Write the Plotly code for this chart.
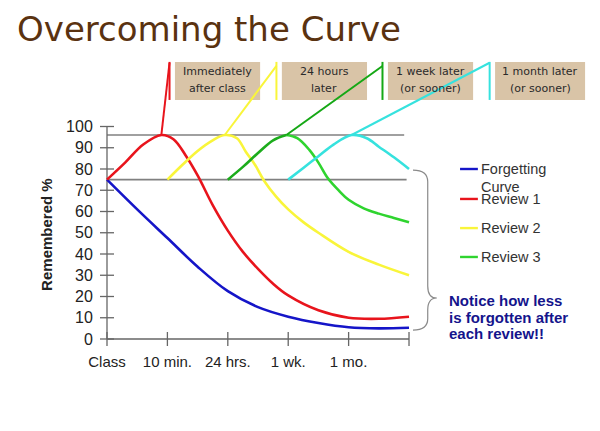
import plotly.graph_objects as go

# ---------------- data ----------------
categories = ["Class", "10 min.", "24 hrs.", "1 wk.", "1 mo."]
y_ticks = [0, 10, 20, 30, 40, 50, 60, 70, 80, 90, 100]

forget_x = [0, 0.5, 1, 1.5, 2, 2.5, 3, 3.5, 4, 4.5, 5]
forget_y = [75, 61, 47.5, 34, 22.5, 15, 10.5, 7.5, 5.5, 5, 5.3]

review1_x = [0, 0.3, 0.6, 0.9, 1.1, 1.3, 1.5, 1.75, 2, 2.25, 2.5, 2.75, 3, 3.5, 4, 4.5, 5]
review1_y = [75, 83, 91.5, 96, 94, 86.5, 77, 63, 51, 41, 33, 26, 20.5, 13.5, 10, 9.5, 10.5]

review2_x = [1, 1.25, 1.5, 1.75, 1.95, 2.15, 2.3, 2.45, 2.6, 2.8, 3, 3.25, 3.5, 4, 4.5, 5]
review2_y = [75, 82, 88.5, 93.5, 96, 94.5, 88, 82, 74.5, 67, 61, 55, 50, 41, 35, 30]

review3_x = [2, 2.25, 2.5, 2.75, 2.97, 3.15, 3.35, 3.5, 3.66, 3.85, 4, 4.25, 4.5, 4.75, 5]
review3_y = [75, 81, 87.5, 93.5, 96, 94.5, 89, 83, 75.5, 69.5, 65.5, 61.5, 59, 57, 55]

review4_x = [3, 3.25, 3.5, 3.75, 4.05, 4.3, 4.5, 4.75, 5]
review4_y = [75, 80.5, 86, 91.5, 96, 94.5, 90.5, 85.5, 80]

ref_levels = [96, 75]
ref_ends = [4.92, 4.96]

legend_names = ["Forgetting Curve", "Review 1", "Review 2", "Review 3"]
box_texts = [["Immediately", "after class"], ["24 hours", "later"],
             ["1 week later", "(or sooner)"], ["1 month later", "(or sooner)"]]
note_lines = ["Notice how less", "is forgotten after", "each review!!"]

# ---------------- styles ----------------
BLUE = "#1515c8"
RED = "#e8141c"
YELLOW = "#f9f53a"
GREEN = "#2fd42f"
GREEN_DARK = "#1cac1c"
CYAN = "#36e2de"
AXIS = "#666666"
GRAY = "#808080"
TAN = "#d9c4a7"

fig = go.Figure()

# reference horizontal lines
for lvl, xe in zip(ref_levels, ref_ends):
    fig.add_trace(go.Scatter(x=[0, xe], y=[lvl, lvl], mode="lines",
                             line=dict(color=GRAY, width=1.6), hoverinfo="skip"))

# axis lines
fig.add_trace(go.Scatter(x=[0, 0], y=[0, 100], mode="lines",
                         line=dict(color=AXIS, width=1.3), hoverinfo="skip"))
fig.add_trace(go.Scatter(x=[0, 5], y=[0, 0], mode="lines",
                         line=dict(color=AXIS, width=1.3), hoverinfo="skip"))
# crossing tick marks
fig.add_trace(go.Scatter(x=[0] * len(y_ticks), y=y_ticks, mode="markers",
                         marker=dict(symbol="line-ew", size=10,
                                     line=dict(width=1.3, color=AXIS)),
                         hoverinfo="skip"))
fig.add_trace(go.Scatter(x=list(range(len(categories) + 1)), y=[0] * (len(categories) + 1),
                         mode="markers",
                         marker=dict(symbol="line-ns", size=10,
                                     line=dict(width=1.3, color=AXIS)),
                         hoverinfo="skip"))

def curve(x, y, color, name, width=2.6):
    fig.add_trace(go.Scatter(x=x, y=y, mode="lines", name=name,
                             line=dict(color=color, width=width, shape="spline", smoothing=1.0)))

curve(forget_x, forget_y, BLUE, legend_names[0])
curve(review1_x, review1_y, RED, legend_names[1])
curve(review2_x, review2_y, YELLOW, legend_names[2])
k3 = review3_y.index(max(review3_y))
curve(review3_x[:k3 + 1], review3_y[:k3 + 1], GREEN_DARK, legend_names[3])
curve(review3_x[k3:], review3_y[k3:], GREEN, legend_names[3])
curve(review4_x, review4_y, CYAN, "Review 4")

# boxes and connectors
box_centers = [1.83, 3.60, 5.356, 7.17]
box_widths = [1.41, 1.41, 1.41, 1.49]
box_bottom, box_top = 112.5, 130.4
peaks = [(review1_x[review1_y.index(max(review1_y))], max(review1_y)),
         (review2_x[review2_y.index(max(review2_y))], max(review2_y)),
         (review3_x[k3], max(review3_y)),
         (review4_x[review4_y.index(max(review4_y))], max(review4_y))]
conn_colors = [RED, YELLOW, "#15a815", CYAN]
conn_tops = [130.0, 128.5, 128.5, 130.0]

shapes = []
annotations = []
for c, w, lines, (px, py), col, ct in zip(box_centers, box_widths, box_texts, peaks,
                                          conn_colors, conn_tops):
    shapes.append(dict(type="rect", xref="x", yref="y", x0=c - w / 2, x1=c + w / 2,
                       y0=box_bottom, y1=box_top, fillcolor=TAN, line=dict(width=0),
                       layer="below"))
    vx = c - w / 2 - 0.09
    fig.add_trace(go.Scatter(x=[px, vx], y=[py, ct], mode="lines",
                             line=dict(color=col, width=2), hoverinfo="skip"))
    fig.add_trace(go.Scatter(x=[vx, vx], y=[box_bottom, box_top], mode="lines",
                             line=dict(color=col, width=2), hoverinfo="skip"))
    for t, yy in zip(lines, [126.1, 118.1]):
        annotations.append(dict(text=t, x=c, y=yy, xref="x", yref="y",
                                showarrow=False, xanchor="center", yanchor="middle",
                                font=dict(family="DejaVu Sans", size=11, color="#2a2a2a")))

# manual legend
leg_colors = [BLUE, RED, YELLOW, GREEN]
leg_y = [80, 65.9, 52.2, 38.6]
for col, yy in zip(leg_colors, leg_y):
    shapes.append(dict(type="line", xref="x", yref="y", x0=5.845, x1=6.14, y0=yy, y1=yy,
                       line=dict(color=col, width=2.4)))
leg_text = [("Forgetting", 80), ("Curve", 71.5), ("Review 1", 65.9),
            ("Review 2", 52.2), ("Review 3", 38.6)]
for t, yy in leg_text:
    annotations.append(dict(text=t, x=6.155, y=yy, xref="x", yref="y", showarrow=False,
                            xanchor="left", yanchor="middle",
                            font=dict(family="Liberation Sans, Arial", size=14.5, color="#333333")))

# brace
shapes.append(dict(type="path", xref="x", yref="y",
                   path="M 5.066,79.5 Q 5.31,79.5 5.31,74 L 5.31,25 Q 5.31,19.3 5.46,19.3 "
                        "Q 5.31,19.3 5.31,13.6 L 5.31,9.5 Q 5.31,4.2 5.066,4.2",
                   line=dict(color="#8a8a8a", width=1.2)))

# note text
for t, yy in zip(note_lines, [18.35, 10.35, 2.82]):
    annotations.append(dict(text="<b>" + t + "</b>", x=5.63, y=yy, xref="x", yref="y",
                            showarrow=False, xanchor="left", yanchor="middle",
                            font=dict(family="Liberation Sans, Arial", size=15, color="#14148c")))

# title
annotations.append(dict(text="Overcoming the Curve", xref="paper", yref="paper",
                        x=-0.147, y=1.0686, xanchor="left", yanchor="middle", showarrow=False,
                        font=dict(family="DejaVu Sans", size=34, color="#5a3210")))
# y-axis title
annotations.append(dict(text="<b>Remembered %</b>", xref="paper", yref="y",
                        x=-0.0843, y=49, xanchor="center", yanchor="middle", showarrow=False,
                        textangle=-90,
                        font=dict(family="Liberation Sans, Arial", size=15, color="#222222")))

fig.update_layout(
    width=600, height=431,
    margin=dict(l=82, r=8, t=42, b=83),
    paper_bgcolor="white", plot_bgcolor="white",
    showlegend=False,
    shapes=shapes, annotations=annotations,
    xaxis=dict(range=[-0.2815, 8.162], tickmode="array",
               tickvals=list(range(len(categories))), ticktext=categories,
               anchor="free", position=17 / 306,
               showline=False, showgrid=False, zeroline=False,
               ticks="outside", ticklen=9, tickcolor="rgba(0,0,0,0)",
               tickfont=dict(family="Liberation Sans, Arial", size=15, color="#222222")),
    yaxis=dict(range=[-8, 136], tickmode="array", tickvals=y_ticks,
               anchor="free", position=17 / 510,
               showline=False, showgrid=False, zeroline=False,
               ticks="outside", ticklen=11, tickcolor="rgba(0,0,0,0)",
               tickfont=dict(family="Liberation Sans, Arial", size=16, color="#222222")),
)

fig.write_html("out.html")
